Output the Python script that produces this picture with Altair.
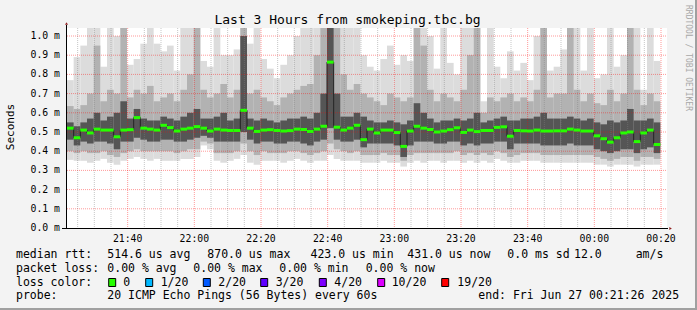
import altair as alt
import pandas as pd

# ---------------- data ----------------
# time axis: minutes after 21:00, one column every 2 minutes
start_min = 21.8
step_min = 2.0

top = [0.77, 0.89, 0.95, 1.05, 1.05, 0.84, 1.05, 1.0, 1.05, 0.85, 0.88, 0.96, 1.05, 0.96, 0.92,
       0.95, 0.82, 1.05, 1.05, 1.05, 0.87, 0.84, 1.05, 0.90, 0.90, 0.93, 1.05, 0.96, 1.05, 0.88,
       0.83, 0.78, 0.85, 0.90, 1.00, 1.05, 1.05, 1.05, 1.05, 1.05, 1.05, 1.05, 1.05, 1.05, 0.90,
       0.84, 0.82, 0.88, 0.95, 0.85, 0.90, 0.87, 1.05, 1.05, 1.00, 0.83, 1.05, 0.86, 0.80, 1.05,
       1.05, 1.05, 0.66, 1.05, 0.84, 0.78, 0.92, 0.82, 0.86, 0.77, 1.00, 1.05, 0.82, 0.84, 0.93,
       1.05, 1.05, 0.82, 1.05, 0.78, 0.80, 1.05, 0.84, 0.90, 1.05, 1.05, 0.72, 1.05, 0.87]
hi = [0.635, 0.62, 0.64, 0.70, 0.95, 0.66, 0.72, 0.70, 1.05, 0.68, 0.72, 0.70, 0.74, 0.66, 0.68,
      0.70, 0.66, 0.72, 0.80, 1.05, 0.72, 0.68, 0.70, 0.75, 0.68, 0.72, 1.05, 0.70, 0.72, 0.68,
      0.66, 0.64, 0.68, 0.70, 0.72, 0.74, 0.75, 0.90, 1.05, 1.05, 1.05, 0.80, 0.72, 0.75, 0.70,
      0.68, 0.66, 0.64, 0.70, 0.68, 0.66, 0.68, 1.05, 0.95, 0.72, 0.66, 0.70, 0.68, 0.66, 0.72,
      0.90, 1.05, 0.60, 0.68, 0.66, 0.68, 0.70, 0.66, 0.68, 0.66, 0.72, 1.05, 0.68, 0.70, 0.70,
      1.05, 0.72, 0.66, 0.70, 0.65, 0.64, 0.72, 0.66, 0.70, 1.05, 0.72, 0.64, 0.70, 0.66]
core_hi = [0.55, 0.53, 0.55, 0.57, 0.60, 0.56, 0.58, 0.60, 0.66, 0.57, 0.62, 0.57, 0.56, 0.56, 0.58,
           0.57, 0.56, 0.58, 0.60, 0.62, 0.57, 0.57, 0.58, 0.60, 0.56, 0.57, 1.00, 0.57, 0.56, 0.57,
           0.56, 0.55, 0.56, 0.57, 0.57, 0.58, 0.57, 0.60, 0.70, 1.05, 0.70, 0.58, 0.58, 0.60, 0.58,
           0.56, 0.55, 0.55, 0.56, 0.55, 0.54, 0.56, 0.65, 0.60, 0.57, 0.55, 0.56, 0.56, 0.57, 0.56,
           0.57, 0.60, 0.55, 0.56, 0.57, 0.58, 0.56, 0.56, 0.57, 0.57, 0.58, 0.60, 0.57, 0.57, 0.57,
           0.58, 0.57, 0.56, 0.57, 0.55, 0.54, 0.56, 0.55, 0.56, 0.62, 0.56, 0.56, 0.57, 0.55]
med = [0.52, 0.47, 0.51, 0.495, 0.515, 0.51, 0.51, 0.475, 0.51, 0.512, 0.575, 0.52, 0.515, 0.51, 0.535,
       0.523, 0.505, 0.515, 0.52, 0.528, 0.52, 0.505, 0.515, 0.51, 0.508, 0.508, 0.613, 0.52, 0.503, 0.51,
       0.512, 0.508, 0.505, 0.507, 0.515, 0.513, 0.503, 0.515, 0.53, 0.864, 0.525, 0.51, 0.52, 0.535, 0.46,
       0.515, 0.495, 0.51, 0.51, 0.497, 0.425, 0.505, 0.53, 0.52, 0.513, 0.50, 0.505, 0.512, 0.522, 0.498,
       0.51, 0.502, 0.508, 0.508, 0.524, 0.527, 0.478, 0.508, 0.506, 0.505, 0.51, 0.505, 0.505, 0.506, 0.506,
       0.515, 0.51, 0.505, 0.505, 0.48, 0.465, 0.447, 0.47, 0.495, 0.50, 0.45, 0.495, 0.51, 0.435]
core_lo = [0.46, 0.43, 0.45, 0.44, 0.45, 0.45, 0.44, 0.41, 0.45, 0.45, 0.47, 0.46, 0.45, 0.45, 0.46,
           0.46, 0.45, 0.45, 0.46, 0.47, 0.48, 0.47, 0.45, 0.45, 0.45, 0.45, 0.50, 0.46, 0.44, 0.45,
           0.45, 0.44, 0.44, 0.45, 0.45, 0.44, 0.43, 0.45, 0.46, 0.52, 0.46, 0.45, 0.45, 0.46, 0.42,
           0.44, 0.44, 0.44, 0.44, 0.43, 0.37, 0.43, 0.45, 0.45, 0.45, 0.44, 0.44, 0.45, 0.45, 0.43,
           0.44, 0.43, 0.44, 0.44, 0.45, 0.45, 0.41, 0.44, 0.44, 0.44, 0.44, 0.43, 0.43, 0.43, 0.43,
           0.44, 0.43, 0.43, 0.43, 0.41, 0.40, 0.39, 0.40, 0.41, 0.41, 0.39, 0.41, 0.42, 0.39]
lo = [0.40, 0.39, 0.40, 0.39, 0.39, 0.40, 0.38, 0.37, 0.39, 0.40, 0.41, 0.40, 0.40, 0.40, 0.40,
      0.40, 0.39, 0.40, 0.41, 0.41, 0.45, 0.44, 0.39, 0.39, 0.39, 0.40, 0.44, 0.40, 0.38, 0.40,
      0.39, 0.39, 0.39, 0.40, 0.40, 0.39, 0.38, 0.39, 0.40, 0.44, 0.41, 0.40, 0.39, 0.40, 0.38,
      0.38, 0.38, 0.39, 0.38, 0.38, 0.35, 0.38, 0.39, 0.39, 0.39, 0.39, 0.39, 0.39, 0.40, 0.38,
      0.39, 0.38, 0.39, 0.38, 0.40, 0.39, 0.37, 0.38, 0.39, 0.39, 0.39, 0.38, 0.38, 0.38, 0.38,
      0.38, 0.38, 0.38, 0.38, 0.37, 0.36, 0.35, 0.36, 0.37, 0.37, 0.35, 0.37, 0.37, 0.36]
bot = [0.355, 0.35, 0.35, 0.34, 0.35, 0.36, 0.34, 0.33, 0.35, 0.36, 0.37, 0.36, 0.35, 0.36, 0.35,
       0.35, 0.35, 0.36, 0.36, 0.37, 0.43, 0.41, 0.35, 0.34, 0.35, 0.36, 0.38, 0.34, 0.33, 0.35,
       0.35, 0.35, 0.34, 0.35, 0.36, 0.35, 0.34, 0.35, 0.35, 0.38, 0.36, 0.35, 0.35, 0.35, 0.34,
       0.34, 0.34, 0.35, 0.34, 0.34, 0.32, 0.34, 0.35, 0.34, 0.35, 0.35, 0.34, 0.35, 0.35, 0.34,
       0.35, 0.34, 0.35, 0.34, 0.36, 0.35, 0.34, 0.34, 0.35, 0.35, 0.35, 0.34, 0.34, 0.34, 0.34,
       0.34, 0.34, 0.34, 0.34, 0.33, 0.33, 0.32, 0.33, 0.33, 0.33, 0.32, 0.33, 0.33, 0.33]

y_ticks = [0.0, 0.1, 0.2, 0.3, 0.4, 0.5, 0.6, 0.7, 0.8, 0.9, 1.0]
y_tick_labels = ["0.0 m", "0.1 m", "0.2 m", "0.3 m", "0.4 m", "0.5 m",
                 "0.6 m", "0.7 m", "0.8 m", "0.9 m", "1.0 m"]
x_ticks = [40, 60, 80, 100, 120, 140, 160, 180, 200]
x_tick_labels = ["21:40", "22:00", "22:20", "22:40", "23:00", "23:20", "23:40", "00:00", "00:20"]
x_minor = [25, 30, 35, 45, 50, 55, 65, 70, 75, 85, 90, 95, 105, 110, 115, 125, 130, 135,
           145, 150, 155, 165, 170, 175, 185, 190, 195]

title = "Last 3 Hours from smokeping.tbc.bg"
legend_rows = [
    [("median rtt:", 16), ("514.6 us avg", 107.3), ("870.0 us max", 207.3),
     ("423.0 us min", 310.5), ("431.0 us now", 407.3), ("0.0 ms sd", 507.3),
     ("12.0", 574), ("am/s", 635.7)],
    [("packet loss:", 16), ("0.00 % avg", 107.3), ("0.00 % max", 193.3),
     ("0.00 % min", 279.3), ("0.00 % now", 365.7)],
    [("loss color:", 16), ("0", 123.3), ("1/20", 160.7), ("2/20", 218.3),
     ("3/20", 275.7), ("4/20", 334.3), ("10/20", 391.7), ("19/20", 457.3)],
    [("probe:", 16), ("20 ICMP Echo Pings (56 Bytes) every 60s", 107.3),
     ("end: Fri Jun 27 00:21:26 2025", 478.3)],
]
loss_colors = ["#26ff00", "#00b8ff", "#0059ff", "#5e00ff", "#7e00ff", "#dd00ff", "#ff0000"]
loss_box_x = [108.7, 145.7, 203.3, 260.7, 319.3, 377.7, 441.7]

# ---------------- layout ----------------
W, H = 600, 200
OX, OY = 67, 28
FONT = "DejaVu Sans Mono"


def rx(x):
    return x - OX


def ry(y):
    return y - OY


n = len(med)
df = pd.DataFrame({
    "t": [start_min + step_min * i for i in range(n)],
    "top": top, "hi": hi, "core_hi": core_hi, "med": med,
    "core_lo": core_lo, "lo": lo, "bot": bot,
})
df["t2"] = df["t"] + step_min

xs = alt.Scale(domain=[start_min, start_min + 180], nice=False, zero=False)
ys = alt.Scale(domain=[0, 200 / 192], nice=False, zero=False)

X = alt.X("t:Q", scale=xs, axis=None)
X2 = alt.X2("t2:Q")

base = alt.Chart(df)
smoke_outer = base.mark_rect(color="#dcdcdc", clip=True).encode(
    x=X, x2=X2, y=alt.Y("bot:Q", scale=ys, axis=None), y2="top:Q")
smoke_mid = base.mark_rect(color="#b2b2b2", clip=True).encode(
    x=X, x2=X2, y=alt.Y("lo:Q", scale=ys, axis=None), y2="hi:Q")
smoke_core = base.mark_rect(color="#555555", clip=True).encode(
    x=X, x2=X2, y=alt.Y("core_lo:Q", scale=ys, axis=None), y2="core_hi:Q")

hgrid = alt.Chart(pd.DataFrame({"v": y_ticks[1:]})).mark_rule(
    color="#ff0000", opacity=0.4, strokeDash=[1, 1], strokeWidth=1).encode(
    y=alt.Y("v:Q", scale=ys, axis=None), x=alt.value(0), x2=alt.value(W))
vminor = alt.Chart(pd.DataFrame({"m": x_minor})).mark_rule(
    color="#808080", opacity=0.45, strokeDash=[1, 1], strokeWidth=1).encode(
    x=alt.X("m:Q", scale=xs, axis=None), y=alt.value(0), y2=alt.value(H))
vmajor = alt.Chart(pd.DataFrame({"m": x_ticks})).mark_rule(
    color="#ff0000", opacity=0.4, strokeDash=[1, 1], strokeWidth=1).encode(
    x=alt.X("m:Q", scale=xs, axis=None), y=alt.value(0), y2=alt.value(H))

med_step = base.mark_line(interpolate="step-after", color="#202020", strokeWidth=1).encode(
    x=X, y=alt.Y("med:Q", scale=ys, axis=None))
med_bar = base.mark_rule(color="#26ff00", strokeWidth=3).encode(
    x=X, x2=X2, y=alt.Y("med:Q", scale=ys, axis=None))

ylab = alt.Chart(pd.DataFrame({"v": y_ticks, "s": y_tick_labels})).mark_text(
    font=FONT, fontSize=9.8, align="right", baseline="middle", color="#000000").encode(
    y=alt.Y("v:Q", scale=ys, axis=None), x=alt.value(-7), text="s:N")
xlab = alt.Chart(pd.DataFrame({"m": x_ticks, "s": x_tick_labels})).mark_text(
    font=FONT, fontSize=9.8, align="center", baseline="alphabetic", color="#000000").encode(
    x=alt.X("m:Q", scale=xs, axis=None), y=alt.value(ry(241.5)), text="s:N")

one = alt.Data(values=[{"a": 1}])

layers = [smoke_outer, smoke_mid, smoke_core, vminor, vmajor, hgrid, med_step, med_bar, ylab, xlab]

# axis lines and arrows
layers.append(alt.Chart(one).mark_rule(color="#000000", strokeWidth=1).encode(
    x=alt.value(-0.5), y=alt.value(ry(25)), y2=alt.value(H + 1)))
layers.append(alt.Chart(one).mark_rule(color="#000000", strokeWidth=1).encode(
    x=alt.value(-5), x2=alt.value(601), y=alt.value(H + 0.5)))
layers.append(alt.Chart(one).mark_point(
    shape="M -0.5 0.4 L 0.5 0.4 L 0 -0.45 Z", filled=True, color="#902020", size=36, opacity=1).encode(
    x=alt.value(-0.5), y=alt.value(ry(23.5))))
layers.append(alt.Chart(one).mark_point(
    shape="M -0.4 -0.5 L -0.4 0.5 L 0.45 0 Z", filled=True, color="#902020", size=36, opacity=1).encode(
    x=alt.value(rx(670.5)), y=alt.value(H + 0.5)))

# title and side texts
layers.append(alt.Chart(one).mark_text(
    font=FONT, fontSize=13, align="center", baseline="alphabetic", color="#000000").encode(
    x=alt.value(rx(347.5)), y=alt.value(ry(24)), text=alt.value(title)))
layers.append(alt.Chart(one).mark_text(
    font=FONT, fontSize=11, align="center", baseline="middle", angle=270, color="#000000").encode(
    x=alt.value(rx(10.5)), y=alt.value(ry(127)), text=alt.value("Seconds")))
layers.append(alt.Chart(one).mark_text(
    font=FONT, fontSize=8, align="center", baseline="middle", angle=90, color="#a8a8a8").encode(
    x=alt.value(rx(687.5)), y=alt.value(ry(58)), text=alt.value("RRDTOOL / TOBI OETIKER")))

# legend
row_base = [258.2, 271.9, 285.6, 299.3]
for row, yb in zip(legend_rows, row_base):
    for txt, xpos in row:
        layers.append(alt.Chart(one).mark_text(
            font=FONT, fontSize=11.5, align="left", baseline="alphabetic", color="#000000").encode(
            x=alt.value(rx(xpos)), y=alt.value(ry(yb)), text=alt.value(txt)))
for c, bx in zip(loss_colors, loss_box_x):
    layers.append(alt.Chart(one).mark_rect(fill=c, stroke="#000000", strokeWidth=1).encode(
        x=alt.value(rx(bx)), x2=alt.value(rx(bx + 7)), y=alt.value(ry(278.5)), y2=alt.value(ry(286.5))))

# frame
layers.append(alt.Chart(one).mark_rule(color="#a0a0a0", strokeWidth=2).encode(
    x=alt.value(rx(0)), x2=alt.value(rx(697)), y=alt.value(ry(309))))
layers.append(alt.Chart(one).mark_rule(color="#a0a0a0", strokeWidth=2).encode(
    x=alt.value(rx(696)), y=alt.value(ry(0)), y2=alt.value(ry(310))))

chart = alt.layer(*layers).properties(
    width=W, height=H,
    padding={"left": OX, "top": OY, "right": 697 - OX - W, "bottom": 310 - OY - H},
    autosize=alt.AutoSizeParams(type="none"),
    background="#f3f3f3",
).configure_view(stroke=None, fill="#ffffff")

chart.save("out.html", embed_options={"renderer": "svg", "actions": False})
